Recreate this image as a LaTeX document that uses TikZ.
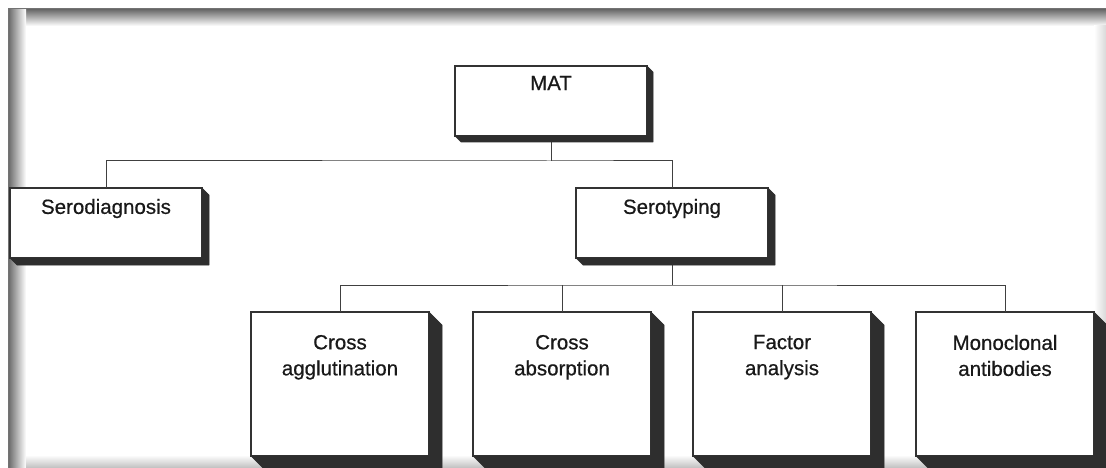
\documentclass[tikz,border=0pt]{standalone}
\usepackage{fontspec}
\setmainfont{Liberation Sans}
\newfontfamily\lblfont{Liberation Sans}[FakeBold=0.6]
\usetikzlibrary{positioning}

\tikzset{
  box/.style={draw=black!80, line width=1.3pt, fill=white, anchor=north west,
    inner sep=0pt, outer sep=0pt},
  smallbox/.style={box, minimum width=192pt, minimum height=70pt},
  bigbox/.style={box, minimum width=178pt, minimum height=144pt},
  slab/.style={fill=black!82, draw=black!82, line width=0.6pt, line join=round},
  lbl/.style={inner sep=0pt, outer sep=0pt, align=center, text=black!90,
    font=\lblfont\fontsize{20.5}{26}\selectfont},
  link/.style={draw=black!75, line width=1pt},
}

\begin{document}
\begin{tikzpicture}[x=1pt, y=-1pt]
  \useasboundingbox (0,0) rectangle (1106,468);
  \clip (0,0) rectangle (1106,468);
  \fill[white] (0,0) rectangle (1106,468);

%%%%%%%%%%%% Frame with inner shadow
  \shade[top color=black!60, bottom color=white] (8,9) rectangle (1106,26);
  \shade[left color=black!60, right color=white] (8,9) rectangle (26,468);
  \shade[left color=white, right color=black!15] (1094,26) rectangle (1106,468);
  \shade[top color=white, bottom color=black!25] (26,455) rectangle (1106,468);
  \draw[black!55, line width=1pt] (8,468) -- (8,9) -- (1106,9);

%%%%%%%%%%%% Boxes
  \node[smallbox] (mat) at (455,66) {};
  \node[smallbox] (sero) at (10,188) {};
  \node[smallbox] (styp) at (576,188) {};
  \foreach \x/\name in {251/cross, 473/absorb, 693/factor, 916/mono} {
    \node[bigbox] (\name) at (\x,312) {};
  }

%%%%%%%%%%%% Connectors
  \coordinate (topbus) at ([yshift=-25pt]mat.south);
  \draw[link] (mat.south) -- (topbus);
  \draw[link] (sero.north) |- (topbus) -| (styp.north);

  \coordinate (lowbus) at ([yshift=-27pt]styp.south);
  \draw[link] (styp.south) -- (lowbus);
  \draw[link] (cross.north) |- (lowbus) -| (mono.north);
  \draw[link] (absorb.north) -- (absorb.north |- lowbus);
  \draw[link] (factor.north) -- (factor.north |- lowbus);

%%%%%%%%%%%% 3D slabs
  \foreach \n/\d in {mat/6, sero/7, styp/7, cross/13, absorb/13, factor/13, mono/13} {
    \filldraw[slab] (\n.north east) -- ++(\d,\d) -- ([shift={(\d,\d)}]\n.south east)
      -- ([shift={(\d,\d)}]\n.south west) -- (\n.south west) -- (\n.south east) -- cycle;
  }

%%%%%%%%%%%% Labels
  \node[lbl, below=10pt of mat.north] (matlbl) {MAT};
  \node[lbl, below=11pt of sero.north] (serolbl) {Serodiagnosis};
  \node[lbl, below=11pt of styp.north] (styplbl) {Serotyping};
  \foreach \name/\txt in {cross/{Cross\\agglutination}, absorb/{Cross\\absorption},
      factor/{Factor\\analysis}, mono/{Monoclonal\\antibodies}} {
    \node[lbl, below=23pt of \name.north] (\name lbl) {\txt};
  }
\end{tikzpicture}
\end{document}
